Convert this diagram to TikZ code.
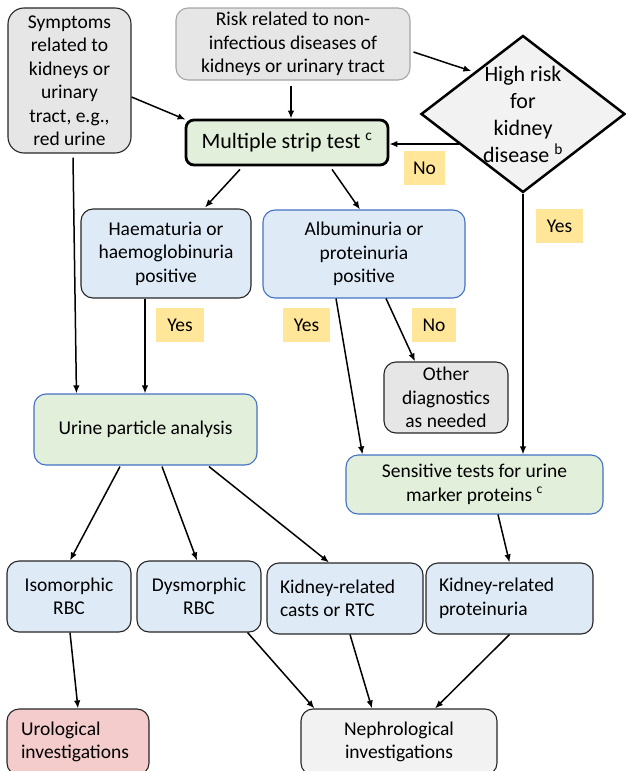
\documentclass[tikz,border=0pt]{standalone}
\usepackage{fontspec}
\setmainfont{Carlito}
\usepackage{xcolor}
\usepackage{tikz}
\usetikzlibrary{shapes.geometric,arrows.meta,positioning,calc}

\definecolor{boxgray}{HTML}{E6E6E6}
\definecolor{palegray}{HTML}{F2F2F2}
\definecolor{riskline}{HTML}{A6A6A6}
\definecolor{stripgreen}{HTML}{E2EFDA}
\definecolor{paleblue}{HTML}{DEEBF7}
\definecolor{edgeblue}{HTML}{4472C4}
\definecolor{uropink}{HTML}{F4CCCC}
\definecolor{tagyellow}{HTML}{FFE699}
\definecolor{edgedark}{HTML}{262626}

\newcommand{\boxfont}{\fontsize{19.5}{23.5}\selectfont}
\newcommand{\bigboxfont}{\fontsize{22}{27}\selectfont}

\begin{document}
\begin{tikzpicture}[x=1pt, y=-1pt, >={Latex[length=8pt,width=6.5pt]}, line width=1.5pt,
    flowbox/.style={draw=edgedark, line width=1.1pt, rounded corners=12pt, align=center, inner sep=0pt, font=\boxfont},
    yesno/.style={fill=tagyellow, inner sep=0pt, minimum height=34pt, font=\boxfont}]
    \useasboundingbox (0,0) rectangle (625,771);

    % entry points
    \node[flowbox, fill=boxgray, rounded corners=16pt, minimum width=123pt, minimum height=145pt] (symp) at (69.5,80.5) {Symptoms\\related to\\kidneys or\\urinary\\tract, e.g.,\\red urine};
    \node[flowbox, fill=boxgray, draw=riskline, minimum width=234pt, minimum height=72pt] (risk) at (293,44) {Risk related to non-\\infectious diseases of\\kidneys or urinary tract};
    \node[diamond, draw, fill=palegray, line width=2.5pt, inner sep=0pt, minimum width=204pt, minimum height=157pt,
          label={[align=center, font=\bigboxfont]center:High risk\\for\\kidney\\disease \textsuperscript{b}}] (risky) at (523,114) {};
    \node[flowbox, fill=stripgreen, draw=black, line width=2.8pt, rounded corners=8pt, font=\bigboxfont, minimum width=202pt, minimum height=45pt] (strip) at (287,142.5) {Multiple strip test \textsuperscript{c}};

    % strip test results
    \node[flowbox, fill=paleblue, minimum width=170pt, minimum height=89pt] (haem) at (166,253.5) {Haematuria or\\haemoglobinuria\\positive};
    \node[flowbox, fill=paleblue, draw=edgeblue, minimum width=202pt, minimum height=88pt] (alb) at (364,254) {Albuminuria or\\proteinuria\\positive};
    \node[flowbox, fill=boxgray, minimum width=124pt, minimum height=71pt] (other) at (446,397.5) {Other\\diagnostics\\as needed};
    \node[flowbox, fill=stripgreen, draw=edgeblue, minimum width=223pt, minimum height=71pt] (urine) at (145.5,429.5) {Urine particle analysis};
    \node[flowbox, fill=stripgreen, draw=edgeblue, minimum width=257pt, minimum height=59pt] (sens) at (474.5,484.5) {Sensitive tests for urine\\marker proteins \textsuperscript{c}};

    % findings
    \node[flowbox, fill=paleblue, minimum width=124pt, minimum height=71pt] (iso) at (69,596.5) {Isomorphic\\RBC};
    \node[flowbox, fill=paleblue, minimum width=124pt, minimum height=71pt] (dys) at (199,596.5) {Dysmorphic\\RBC};
    \node[flowbox, fill=paleblue, align=flush left, text width=130pt, inner xsep=13pt, minimum height=71pt] (casts) at (345,598.5) {Kidney-related\\casts or RTC};
    \node[flowbox, fill=paleblue, align=flush left, text width=141pt, inner xsep=13pt, minimum height=71pt] (prot) at (509.5,598.5) {Kidney-related\\proteinuria};
    \node[flowbox, fill=uropink, align=flush left, text width=114pt, inner xsep=14pt, minimum height=66pt] (uro) at (78,742) {Urological\\investigations};
    \node[flowbox, fill=palegray, minimum width=196pt, minimum height=66pt] (neph) at (399,742) {Nephrological\\investigations};

    % yes / no tags
    \node[yesno, minimum width=41pt] (noA) at (424.5,168) {No};
    \node[yesno, minimum width=47pt] (yesA) at (559.5,226) {Yes};
    \node[yesno, minimum width=48pt] (yesB) at (180,325) {Yes};
    \node[yesno, minimum width=47pt] (yesC) at (306.5,325) {Yes};
    \node[yesno, minimum width=44pt] (noB) at (434,325) {No};

    % arrows
    \draw[->] ([yshift=-16.5pt]symp.east) -- ([xshift=1pt,yshift=-1pt]strip.north west);
    \draw[->] ([xshift=-2pt,yshift=-5pt]risk.south) -- ([xshift=4pt]strip.north);
    \draw[->] ([xshift=3pt,yshift=-8pt]risk.east) -- ([yshift=3pt]risky.north west);
    \draw[->] (risky.205) -- (risky.205 -| strip.east);
    \draw[->] (risky.south) -- (risky.south |- sens.north);
    \draw[->] ([xshift=-47pt,yshift=-3pt]strip.south) -- ([xshift=39pt,yshift=1pt]haem.north);
    \draw[->] ([xshift=45pt,yshift=-3pt]strip.south) -- ([xshift=-4pt]alb.north);
    \draw[->] ([xshift=3.5pt,yshift=-4pt]symp.south) -- ([xshift=43pt]urine.north west);
    \draw[->] ([xshift=-21pt]haem.south) -- ([xshift=-21pt]haem.south |- urine.north);
    \draw[->] ([xshift=-28pt]alb.south) -- ([xshift=17pt]sens.north west);
    \draw[->] ([xshift=22pt]alb.south) -- ([xshift=-31pt]other.north);
    \draw[->] ([xshift=-25.5pt,yshift=-1pt]urine.south) -- ([xshift=1pt]iso.north);
    \draw[->] ([xshift=16.5pt,yshift=-1pt]urine.south) -- ([xshift=-2pt]dys.north);
    \draw[->] ([xshift=63.5pt,yshift=-1pt]urine.south) -- ([xshift=-16pt]casts.north);
    \draw[->] ([xshift=23.5pt]sens.south) -- (prot.north);
    \draw[->] ([xshift=1pt]iso.south) -- (uro.north);
    \draw[->] ([xshift=-14pt]dys.south east) -- ([xshift=14pt]neph.north west);
    \draw[->] ([xshift=5pt]casts.south) -- ([xshift=-27pt]neph.north);
    \draw[->] (prot.south) -- ([xshift=36pt]neph.north);
\end{tikzpicture}
\end{document}
